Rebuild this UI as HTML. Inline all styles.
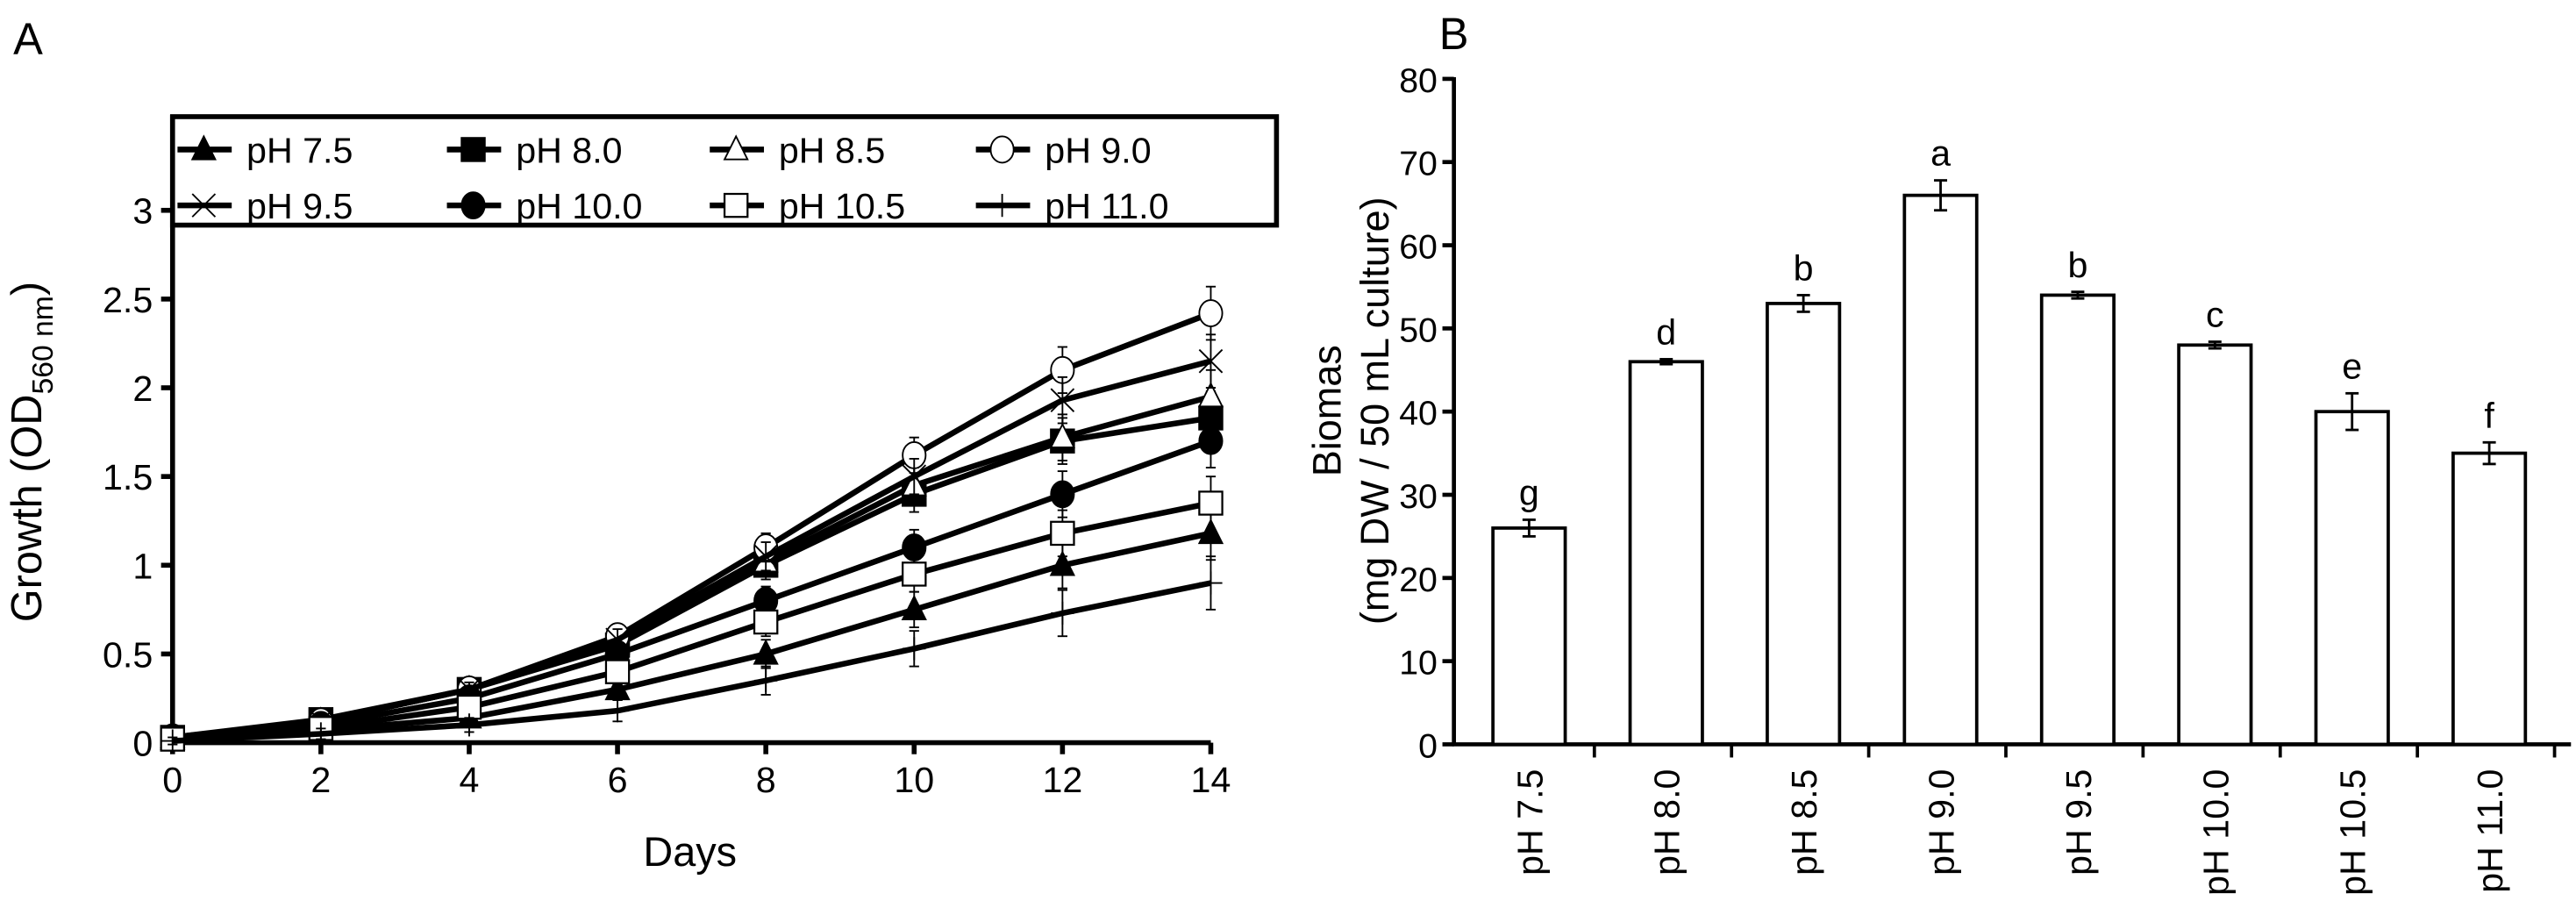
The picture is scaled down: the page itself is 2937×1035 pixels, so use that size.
<!DOCTYPE html>
<html><head><meta charset="utf-8"><style>
html,body{margin:0;padding:0;background:#fff}
svg{display:block;font-family:"Liberation Sans",sans-serif}
</style></head><body>
<svg id="fig" width="2937" height="1035" viewBox="0 0 1568 552.6" xmlns="http://www.w3.org/2000/svg">
<rect width="1568" height="553" fill="#fff"/>
<text x="8" y="33" font-size="27">A</text>
<text x="876" y="30" font-size="27">B</text>
<g id="gA"></g>
<g id="gB"></g>
</svg>
<script>
const days=[0,2,4,6,8,10,12,14];
const seriesNames=["pH 7.5","pH 8.0","pH 8.5","pH 9.0","pH 9.5","pH 10.0","pH 10.5","pH 11.0"];
const ph75=[0.02,0.07,0.14,0.30,0.50,0.75,1.00,1.18];
const ph80=[0.03,0.13,0.30,0.55,1.00,1.40,1.70,1.83];
const ph85=[0.03,0.12,0.30,0.56,1.02,1.45,1.72,1.95];
const ph90=[0.03,0.12,0.30,0.60,1.10,1.62,2.10,2.42];
const ph95=[0.03,0.12,0.30,0.58,1.05,1.50,1.93,2.15];
const ph100=[0.03,0.10,0.25,0.50,0.80,1.10,1.40,1.70];
const ph105=[0.02,0.08,0.20,0.40,0.68,0.95,1.18,1.35];
const ph110=[0.01,0.05,0.10,0.18,0.35,0.53,0.73,0.90];
const growthErr=[0.02,0.03,0.04,0.06,0.08,0.1,0.13,0.15];
const yTicksA=[0,0.5,1,1.5,2,2.5,3];
const yTickLabelsA=["0","0.5","1","1.5","2","2.5","3"];
const categories=["pH 7.5","pH 8.0","pH 8.5","pH 9.0","pH 9.5","pH 10.0","pH 10.5","pH 11.0"];
const biomass=[26,46,53,66,54,48,40,35];
const biomassErr=[1,0.3,1,1.8,0.4,0.4,2.2,1.3];
const letters=["g","d","b","a","b","c","e","f"];
const yTicksB=[0,10,20,30,40,50,60,70,80];

const NS="http://www.w3.org/2000/svg";
function el(p,tag,attrs,txt){const e=document.createElementNS(NS,tag);for(const k in attrs)e.setAttribute(k,attrs[k]);if(txt!==undefined)e.textContent=txt;p.appendChild(e);return e;}

const gA=document.getElementById('gA');
const xA=d=>105+d*(632/14);
const yA=v=>452-v*108;
let ax=el(gA,'line',{x1:105,y1:70,x2:105,y2:453,stroke:'#000','stroke-width':3});


ax=el(gA,'line',{x1:104,y1:452,x2:737,y2:452,stroke:'#000','stroke-width':3});


yTicksA.forEach((v,i)=>{
  el(gA,'line',{x1:98,y1:yA(v),x2:105,y2:yA(v),stroke:'#000','stroke-width':3});
  const t=el(gA,'text',{x:93,y:yA(v)+8,'font-size':22,'text-anchor':'end'},yTickLabelsA[i]);
  
  
});
days.forEach(d=>{
  el(gA,'line',{x1:xA(d),y1:452,x2:xA(d),y2:459,stroke:'#000','stroke-width':3});
  const t=el(gA,'text',{x:xA(d),y:482,'font-size':22,'text-anchor':'middle'},String(d));
  
  
});
let t=el(gA,'text',{x:420,y:527,'font-size':25,'text-anchor':'middle'},'Days');


t=el(gA,'text',{transform:'translate(25,275) rotate(-90)','font-size':26,'text-anchor':'middle'});


t.innerHTML='Growth (OD<tspan font-size="18" dy="7">560 nm</tspan><tspan dy="-7">)</tspan>';

function marker(g,type,x,y){
  const s=7;
  if(type==='tri'||type==='otri')el(g,'polygon',{points:`${x},${y-s-1} ${x-s},${y+s-1} ${x+s},${y+s-1}`,fill:type==='tri'?'#000':'#fff',stroke:'#000','stroke-width':1});
  else if(type==='sq'||type==='osq')el(g,'rect',{x:x-s,y:y-s,width:2*s,height:2*s,fill:type==='sq'?'#000':'#fff',stroke:'#000','stroke-width':1.2});
  else if(type==='circ'||type==='ocirc')el(g,'ellipse',{cx:x,cy:y,rx:s,ry:s+1,fill:type==='circ'?'#000':'#fff',stroke:'#000','stroke-width':1});
  else if(type==='x'){el(g,'line',{x1:x-s,y1:y-s,x2:x+s,y2:y+s,stroke:'#000','stroke-width':1});el(g,'line',{x1:x-s,y1:y+s,x2:x+s,y2:y-s,stroke:'#000','stroke-width':1});}
  else if(type==='plus'){el(g,'line',{x1:x-s,y1:y,x2:x+s,y2:y,stroke:'#000','stroke-width':1});el(g,'line',{x1:x,y1:y-s,x2:x,y2:y+s,stroke:'#000','stroke-width':1});}
}
const allSeries=[ph75,ph80,ph85,ph90,ph95,ph100,ph105,ph110];
const mtypes=['tri','sq','otri','ocirc','x','circ','osq','plus'];
allSeries.forEach((vals,si)=>{
  const g=el(gA,'g',{});
  
  
  let d='';
  vals.forEach((v,i)=>{d+=(i?'L':'M')+xA(days[i])+','+yA(v);});
  el(g,'path',{d:d,fill:'none',stroke:'#000','stroke-width':3.5});
  vals.forEach((v,i)=>{
    const e=growthErr[i]*108, x=xA(days[i]);
    el(g,'line',{x1:x,y1:yA(v)-e,x2:x,y2:yA(v)+e,stroke:'#000','stroke-width':1});
    el(g,'line',{x1:x-3,y1:yA(v)-e,x2:x+3,y2:yA(v)-e,stroke:'#000','stroke-width':1});
    el(g,'line',{x1:x-3,y1:yA(v)+e,x2:x+3,y2:yA(v)+e,stroke:'#000','stroke-width':1});
    marker(g,mtypes[si],x,yA(v));
  });
});
const lg=el(gA,'g',{});


el(lg,'rect',{x:105,y:71,width:672,height:66,fill:'#fff',stroke:'#000','stroke-width':3});
[0,1,2,3,4,5,6,7].forEach((si,k)=>{
  const col=k%4,row=Math.floor(k/4);
  const lx=[108,272,432,594][col], ly=91+row*34;
  const g=el(lg,'g',{});
  
  
  el(g,'line',{x1:lx,y1:ly,x2:lx+33,y2:ly,stroke:'#000','stroke-width':3.5});
  marker(g,mtypes[si],lx+16,ly);
  el(g,'text',{x:lx+42,y:ly+8,'font-size':22},seriesNames[si]);
});

const gB=document.getElementById('gB');
const x0B=885,bandW=83.5;
const xB=i=>x0B+bandW*(i+0.5)+4;
const yB=v=>453-v*(405/80);
ax=el(gB,'line',{x1:885,y1:47,x2:885,y2:454,stroke:'#000','stroke-width':2.5});


ax=el(gB,'line',{x1:884,y1:453,x2:1565,y2:453,stroke:'#000','stroke-width':2.5});


yTicksB.forEach(v=>{
  el(gB,'line',{x1:878,y1:yB(v),x2:885,y2:yB(v),stroke:'#000','stroke-width':2.5});
  const t=el(gB,'text',{x:875,y:yB(v)+8,'font-size':21,'text-anchor':'end'},String(v));
  
  
});
categories.forEach((c,i)=>{
  const bx=x0B+bandW*(i+1)+2;
  el(gB,'line',{x1:bx,y1:453,x2:bx,y2:461,stroke:'#000','stroke-width':2});
  const xc=xB(i), v=biomass[i], e=biomassErr[i]*(405/80);
  const r=el(gB,'rect',{x:xc-22,y:yB(v),width:44,height:453-yB(v),fill:'#fff',stroke:'#000','stroke-width':2});
  
  
  el(gB,'line',{x1:xc,y1:yB(v)-e,x2:xc,y2:yB(v)+e,stroke:'#000','stroke-width':1.5});
  el(gB,'line',{x1:xc-4,y1:yB(v)-e,x2:xc+4,y2:yB(v)-e,stroke:'#000','stroke-width':1.5});
  el(gB,'line',{x1:xc-4,y1:yB(v)+e,x2:xc+4,y2:yB(v)+e,stroke:'#000','stroke-width':1.5});
  const lt=el(gB,'text',{x:xc,y:yB(v)-e-9,'font-size':22,'text-anchor':'middle'},letters[i]);
  
  
  const cl=el(gB,'text',{transform:`translate(${xc+8},468) rotate(-90)`,'font-size':22,'text-anchor':'end'},c);
  
  
});
t=el(gB,'text',{transform:'translate(816,250) rotate(-90)','font-size':24,'text-anchor':'middle'},'Biomas');


t=el(gB,'text',{transform:'translate(845,250) rotate(-90)','font-size':24,'text-anchor':'middle'},'(mg DW / 50 mL culture)');


</script>
</body></html>
